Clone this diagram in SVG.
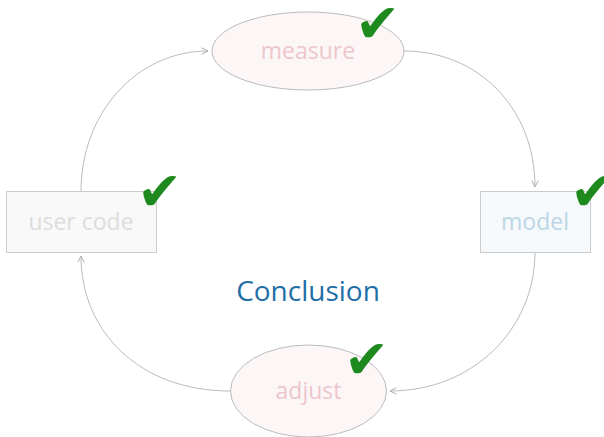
<svg xmlns="http://www.w3.org/2000/svg" width="604" height="437" viewBox="0 0 604 437">
<defs>
<marker id="arr" viewBox="0 0 10 10" refX="9" refY="5" markerWidth="8" markerHeight="8" orient="auto" markerUnits="userSpaceOnUse">
<path d="M1,1 L9,5 L1,9" fill="none" stroke="#aaa" stroke-width="1.2"/>
</marker>
<style>
.edge{fill:none;stroke:#bbb;stroke-width:1;marker-end:url(#arr)}
.lbl{font-family:"Open Sans","DejaVu Sans",sans-serif;font-size:23px;text-anchor:middle}
.chk{font-family:"DejaVu Sans",sans-serif;font-size:54px;fill:#1e8a1e}
</style>
</defs>
<rect width="604" height="437" fill="#fff"/>
<g id="connectors">
<path class="edge" d="M404,51 C478,51 535,108 535,187"/>
<path class="edge" d="M535,252 C535,330 472,391 390,391"/>
<path class="edge" d="M230,391 C140,391 81,332 81,256"/>
<path class="edge" d="M81,191 C81,114 136,51 208,51"/>
</g>
<g id="measure">
<ellipse cx="308" cy="51" rx="96" ry="39" fill="#fcf6f6" stroke="#bbb"/>
<text class="lbl" x="308" y="59" fill="#edc6cc">measure</text>
<text class="chk" x="355" y="42">✔</text>
</g>
<g id="model">
<rect x="480.500" y="191.500" width="110" height="61" fill="#f5f9fb" stroke="#ccc"/>
<text class="lbl" x="535" y="230" fill="#bcd6e6">model</text>
<text class="chk" x="570" y="210">✔</text>
</g>
<g id="user-code">
<rect x="6.500" y="191.500" width="150" height="61" fill="#f9f9f9" stroke="#ccc"/>
<text class="lbl" x="81" y="230" fill="#ddd">user code</text>
<text class="chk" x="137" y="210">✔</text>
</g>
<g id="adjust">
<ellipse cx="308.500" cy="391" rx="78" ry="46" fill="#fcf6f6" stroke="#bbb"/>
<text class="lbl" x="308.500" y="399" fill="#edc6cc">adjust</text>
<text class="chk" x="344" y="378">✔</text>
</g>
<g id="title">
<text x="308" y="301" font-family="'Open Sans','DejaVu Sans',sans-serif" font-size="28" text-anchor="middle" fill="#1f6fa6">Conclusion</text>
</g>
</svg>
